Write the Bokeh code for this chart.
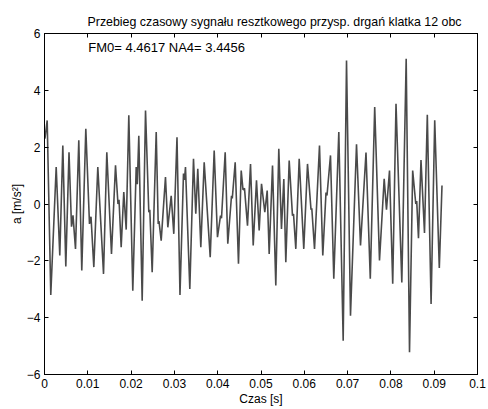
from bokeh.plotting import figure
from bokeh.models import Range1d, LinearAxis, FixedTicker, Label, ColumnDataSource, CustomJSTickFormatter
from bokeh.embed import file_html
from bokeh.resources import INLINE

# time [s] of the signal's turning points
t = [0.0001, 0.00062, 0.00145, 0.00270, 0.00353, 0.00423, 0.00492, 0.00566, 0.00624, 0.00658,
     0.00716, 0.00792, 0.00861, 0.00954, 0.01039, 0.01074, 0.01139, 0.01231, 0.01363, 0.01439,
     0.01547, 0.01640, 0.01697, 0.01721, 0.01771, 0.01831, 0.01887, 0.01947, 0.02039, 0.02118,
     0.02143, 0.02178, 0.02256, 0.02333, 0.02409, 0.02432, 0.02487, 0.02580, 0.02626, 0.02644,
     0.02695, 0.02794, 0.02848, 0.02926, 0.02986, 0.03060, 0.03129, 0.03210, 0.03233, 0.03256,
     0.03356, 0.03441, 0.03494, 0.03540, 0.03610, 0.03688, 0.03827, 0.03919, 0.03995, 0.04065,
     0.04088, 0.04173, 0.04233, 0.04319, 0.04337, 0.04404, 0.04480, 0.04543, 0.04584, 0.04619,
     0.04688, 0.04758, 0.04820, 0.04896, 0.04958, 0.05012, 0.05088, 0.05143, 0.05189, 0.05266,
     0.05342, 0.05411, 0.05473, 0.05527, 0.05573, 0.05651, 0.05727, 0.05751, 0.05804, 0.05882,
     0.05988, 0.06074, 0.06155, 0.06173, 0.06236, 0.06351, 0.06427, 0.06501, 0.06524, 0.06605,
     0.06681, 0.06797, 0.06898, 0.06975, 0.07067, 0.07206, 0.07298, 0.07425, 0.07524, 0.07626,
     0.07737, 0.07845, 0.07898, 0.07968, 0.08042, 0.08118, 0.08252, 0.08353, 0.08430, 0.08503,
     0.08575, 0.08596, 0.08637, 0.08695, 0.08776, 0.08841, 0.08928, 0.09012, 0.09118, 0.09180]

# acceleration [m/s^2]
a = [2.3, 2.94, -3.2, 1.30, -1.81, 2.06, -2.2, 1.82, -0.8, -0.4,
     -1.58, 2.24, -2.34, 2.65, -0.7, -0.45, -2.22, 1.30, -2.46, 1.82,
     -1.76, 1.36, 0.0, 0.15, -1.52, 0.42, -0.9, 3.12, -3.05, 1.30,
     0.7, 2.4, -3.4, 3.29, -0.29, -0.2, -2.4, 2.53, -0.7, -0.6,
     -1.29, 0.95, -0.82, 0.29, -1.05, 2.35, -3.2, 1.07, 0.85, 1.30,
     -2.99, 1.59, -0.34, 1.24, -1.52, 1.47, -1.87, 1.88, -1.17, -0.41,
     -0.5, 1.82, -1.40, 0.29, 0.2, 1.47, -2.10, 1.18, 0.5, 0.55,
     -0.76, 1.41, -1.46, 0.83, -0.93, 0.71, -0.29, 0.47, -1.76, 1.35,
     -2.87, 1.94, -0.88, 0.88, -2.05, 1.53, -0.41, -0.35, -1.58, 1.59,
     -1.58, 1.41, -0.2, -0.15, -1.58, 2.06, -1.81, 0.4, 0.3, 1.71,
     -2.63, 2.53, -4.81, 5.05, -3.93, 2.10, -1.46, 1.81, -2.63, 3.41,
     -1.99, 0.89, -0.2, 1.18, -2.81, 3.53, -2.76, 5.11, -5.22, 1.18,
     0.0, 0.1, -1.2, 1.55, -1.02, 3.14, -3.52, 2.95, -2.25, 0.65]

x_ticks = [0, 0.01, 0.02, 0.03, 0.04, 0.05, 0.06, 0.07, 0.08, 0.09, 0.1]
x_tick_labels = ["0", "0.01", "0.02", "0.03", "0.04", "0.05", "0.06", "0.07", "0.08", "0.09", "0.1"]
y_ticks = [-6, -4, -2, 0, 2, 4, 6]

title_text = "Przebieg czasowy sygnału resztkowego przysp. drgań  klatka 12 obc"
x_label = "Czas [s]"
y_label = "a [m/s²]"
note_text = "FM0= 4.4617  NA4= 3.4456"

FONT = "Liberation Sans"

p = figure(width=488, height=409, x_range=Range1d(0, 0.1), y_range=Range1d(-6, 6),
           output_backend="svg", toolbar_location=None,
           min_border_left=44, min_border_right=11, min_border_top=33, min_border_bottom=35,
           background_fill_color="white", border_fill_color="white")

p.grid.visible = False
p.outline_line_color = "black"
p.outline_line_width = 1

p.title.text = title_text
p.title.align = "left"
p.title.offset = 43
p.title.text_font = FONT
p.title.text_font_size = "12.4px"
p.title.text_font_style = "normal"
p.title.text_color = "black"

src = ColumnDataSource(dict(t=t, a=a))
p.line("t", "a", source=src, line_color="#4a4a4a", line_width=1.6)

for ax in (p.xaxis[0], p.yaxis[0]):
    ax.major_tick_in = 4
    ax.major_tick_out = 0
    ax.minor_tick_line_color = None
    ax.axis_line_color = "black"
    ax.major_tick_line_color = "black"
    ax.major_label_text_font = FONT
    ax.major_label_text_font_size = "12px"
    ax.major_label_text_color = "black"
    ax.axis_label_text_font = FONT
    ax.axis_label_text_font_size = "12px"
    ax.axis_label_text_font_style = "normal"
    ax.axis_label_text_color = "black"

p.xaxis[0].ticker = FixedTicker(ticks=x_ticks)
p.xaxis[0].major_label_overrides = dict(zip(x_ticks, x_tick_labels))
p.xaxis[0].major_label_standoff = 4
p.xaxis[0].axis_label = x_label
p.xaxis[0].axis_label_standoff = 1

p.yaxis[0].ticker = FixedTicker(ticks=y_ticks)
p.yaxis[0].major_label_standoff = 4
p.yaxis[0].axis_label = y_label
p.yaxis[0].axis_label_standoff = 0

blank = "return ''"
top = LinearAxis(ticker=FixedTicker(ticks=x_ticks), formatter=CustomJSTickFormatter(code=blank),
                 major_tick_in=4, major_tick_out=0, minor_tick_line_color=None,
                 major_label_standoff=0)
right = LinearAxis(ticker=FixedTicker(ticks=y_ticks), formatter=CustomJSTickFormatter(code=blank),
                   major_tick_in=4, major_tick_out=0, minor_tick_line_color=None,
                   major_label_standoff=0)
p.add_layout(top, "above")
p.add_layout(right, "right")

p.add_layout(Label(x=0.0101, y=5.5, text=note_text, text_baseline="middle",
                   text_font=FONT, text_font_size="13px", text_color="black"))

open("out.html", "w").write(file_html(p, INLINE))
